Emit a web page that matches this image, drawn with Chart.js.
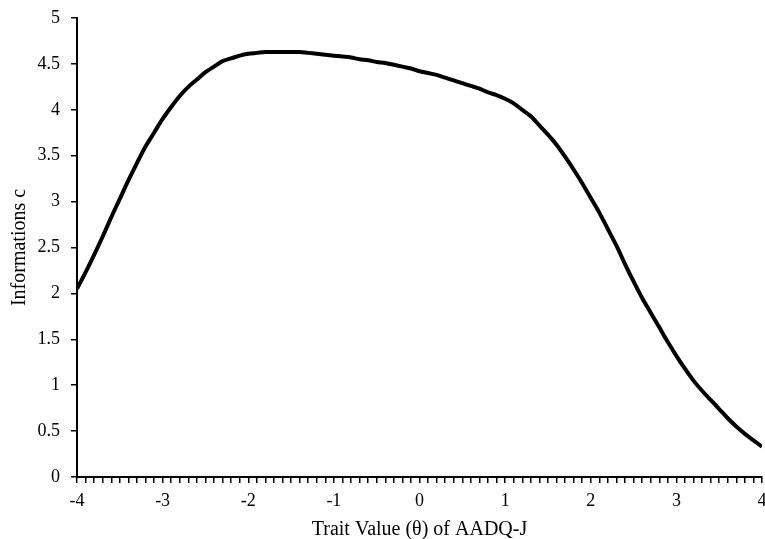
<!DOCTYPE html>
<html>
<head>
<meta charset="utf-8">
<script src="https://cdn.jsdelivr.net/npm/chart.js@4.4.1/dist/chart.umd.min.js"></script>
<style>
    body { margin: 0; background: #fff; }
    #wrap { width: 765px; height: 539px; }
</style>
</head>
<body>
<div id="wrap"><canvas id="myChart"></canvas></div>
<script>
// theta from -4 to 4 in steps of 0.1
var theta = [
    -4.0, -3.9, -3.8, -3.7, -3.6, -3.5, -3.4, -3.3, -3.2, -3.1,
    -3.0, -2.9, -2.8, -2.7, -2.6, -2.5, -2.4, -2.3, -2.2, -2.1,
    -2.0, -1.9, -1.8, -1.7, -1.6, -1.5, -1.4, -1.3, -1.2, -1.1,
    -1.0, -0.9, -0.8, -0.7, -0.6, -0.5, -0.4, -0.3, -0.2, -0.1,
    0.0, 0.1, 0.2, 0.3, 0.4, 0.5, 0.6, 0.7, 0.8, 0.9,
    1.0, 1.1, 1.2, 1.3, 1.4, 1.5, 1.6, 1.7, 1.8, 1.9,
    2.0, 2.1, 2.2, 2.3, 2.4, 2.5, 2.6, 2.7, 2.8, 2.9,
    3.0, 3.1, 3.2, 3.3, 3.4, 3.5, 3.6, 3.7, 3.8, 3.9,
    4.0
];
var information = [
    2.05, 2.23, 2.42, 2.62, 2.83, 3.03, 3.23, 3.42, 3.60, 3.75,
    3.90, 4.03, 4.15, 4.25, 4.33, 4.41, 4.47, 4.53, 4.56, 4.59,
    4.61, 4.62, 4.63, 4.63, 4.63, 4.63, 4.63, 4.62, 4.61, 4.60,
    4.59, 4.58, 4.57, 4.55, 4.54, 4.52, 4.51, 4.49, 4.47, 4.45,
    4.42, 4.40, 4.38, 4.35, 4.32, 4.29, 4.26, 4.23, 4.19, 4.16,
    4.12, 4.07, 4.00, 3.93, 3.83, 3.73, 3.62, 3.49, 3.35, 3.20,
    3.04, 2.88, 2.70, 2.52, 2.32, 2.13, 1.95, 1.79, 1.63, 1.47,
    1.32, 1.18, 1.05, 0.94, 0.84, 0.74, 0.64, 0.55, 0.47, 0.40,
    0.33
];
var xTickLabels = ['-4', '-3', '-2', '-1', '0', '1', '2', '3', '4'];
var yTickLabels = ['0', '0.5', '1', '1.5', '2', '2.5', '3', '3.5', '4', '4.5', '5'];

var points = theta.map((t, i) => ({ x: t, y: information[i] }));
var serif = 'Liberation Serif';

var ctx = document.getElementById('myChart').getContext('2d');
var myChart = new Chart(ctx, {
    type: 'line',
    data: {
        datasets: [
            {
                label: 'Information',
                data: points,
                borderColor: '#000',
                borderWidth: 4,
                pointRadius: 0,
                tension: 0.3,
                fill: false
            }
        ]
    },
    options: {
        responsive: true,
        maintainAspectRatio: false,
        animation: false,
        layout: { padding: { left: 0, right: 3, top: 18, bottom: -3 } },
        plugins: {
            legend: { display: false },
            tooltip: { enabled: false }
        },
        scales: {
            x: {
                type: 'linear',
                min: -4,
                max: 4,
                afterFit: function(scale) {
                    scale.height = 65;
                    scale.paddingLeft = 0;
                    scale.paddingRight = 0;
                },
                border: { display: true, color: '#000', width: 2 },
                grid: { display: true, drawOnChartArea: false, drawTicks: true, tickLength: 6, color: '#000', lineWidth: 1.5 },
                ticks: {
                    stepSize: 0.1,
                    autoSkip: false,
                    maxRotation: 0,
                    padding: 7,
                    color: '#000',
                    font: { family: serif, size: 18 },
                    callback: function(v) {
                        var r = Math.round(v);
                        if (Math.abs(v - r) < 1e-6) return xTickLabels[r + 4];
                        return '';
                    }
                },
                title: {
                    display: true,
                    text: 'Trait Value (θ) of AADQ-J',
                    color: '#000',
                    font: { family: serif, size: 20 },
                    padding: { top: 0, bottom: 0 }
                }
            },
            y: {
                min: 0,
                max: 5,
                afterFit: function(scale) {
                    scale.width = 77;
                    scale.paddingTop = 0;
                    scale.paddingBottom = 0;
                },
                border: { display: true, color: '#000', width: 2 },
                grid: { display: true, drawOnChartArea: false, drawTicks: true, tickLength: 6, color: '#000', lineWidth: 1.5 },
                ticks: {
                    stepSize: 0.5,
                    padding: 11,
                    color: '#000',
                    font: { family: serif, size: 18 },
                    callback: function(v) {
                        return yTickLabels[Math.round(v * 2)];
                    }
                },
                title: {
                    display: true,
                    text: 'Informations c',
                    color: '#000',
                    font: { family: serif, size: 20 },
                    padding: { top: 8, bottom: 0 }
                }
            }
        }
    }
});
</script>
</body>
</html>
